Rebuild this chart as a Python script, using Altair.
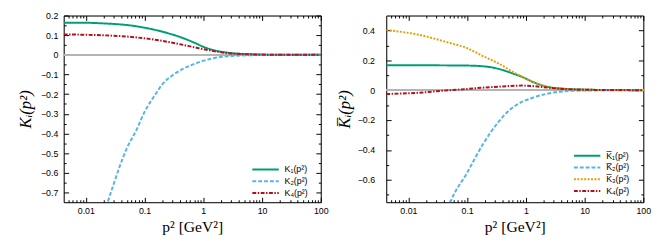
import altair as alt
import pandas as pd

# ---------------- data ----------------
# left panel
L_K1_p = [0.0042, 0.01, 0.02, 0.03, 0.056, 0.1, 0.2, 0.3, 0.4, 0.5, 0.75, 1.0, 1.5, 2.0, 3.0, 5.0, 10.0, 30.0, 100.0]
L_K1_v = [0.163, 0.163, 0.160, 0.157, 0.150, 0.138, 0.118, 0.103, 0.091, 0.080, 0.058, 0.041, 0.024, 0.016, 0.009, 0.004, 0.0015, 0.0003, 0.0]

L_K2_p = [0.018, 0.0235, 0.03, 0.038, 0.05, 0.072, 0.1, 0.15, 0.2, 0.3, 0.45, 0.8, 1.5, 3.0, 6.0, 10.0, 100.0]
L_K2_v = [-0.86, -0.75, -0.655, -0.565, -0.475, -0.385, -0.29, -0.205, -0.15, -0.104, -0.072, -0.040, -0.017, -0.006, -0.002, -0.001, 0.0]

L_K4_p = [0.0042, 0.01, 0.03, 0.06, 0.1, 0.2, 0.4, 0.8, 1.5, 3.0, 6.0, 10.0, 100.0]
L_K4_v = [0.104, 0.102, 0.097, 0.091, 0.084, 0.071, 0.054, 0.035, 0.019, 0.007, 0.003, 0.001, 0.0]

# right panel
R_K1_p = [0.0042, 0.01, 0.05, 0.1, 0.2, 0.35, 0.5, 0.67, 0.9, 1.27, 2.4, 4.6, 10.0, 17.0, 100.0]
R_K1_v = [0.167, 0.167, 0.166, 0.165, 0.159, 0.142, 0.123, 0.105, 0.086, 0.058, 0.022, 0.009, 0.004, 0.002, 0.0]

R_K2_p = [0.044, 0.052, 0.099, 0.187, 0.35, 0.52, 0.67, 1.27, 2.4, 4.6, 10.0, 100.0]
R_K2_v = [-0.83, -0.75, -0.556, -0.36, -0.207, -0.135, -0.102, -0.052, -0.022, -0.007, -0.002, 0.0]

R_K3_p = [0.0042, 0.0143, 0.051, 0.098, 0.185, 0.355, 0.67, 0.9, 1.27, 2.4, 4.6, 10.0, 17.0, 100.0]
R_K3_v = [0.403, 0.373, 0.316, 0.283, 0.229, 0.176, 0.112, 0.086, 0.058, 0.022, 0.009, 0.004, 0.002, 0.0]

R_K4_p = [0.0042, 0.0076, 0.014, 0.03, 0.051, 0.098, 0.185, 0.35, 0.67, 0.86, 1.27, 2.4, 4.6, 10.0, 17.0, 100.0]
R_K4_v = [-0.026, -0.022, -0.018, -0.007, 0.0, 0.008, 0.017, 0.024, 0.030, 0.031, 0.028, 0.017, 0.008, 0.003, 0.002, 0.0]

L_names = ["K\u2081(p\u00b2)", "K\u2082(p\u00b2)", "K\u2084(p\u00b2)"]
R_names = ["K\u0305\u2081(p\u00b2)", "K\u0305\u2082(p\u00b2)", "K\u0305\u2083(p\u00b2)", "K\u2084(p\u00b2)"]

GREEN, BLUE, ORANGE, RED = "#009e73", "#56b4e9", "#e69f00", "#b0121b"
L_colors = [GREEN, BLUE, RED]
R_colors = [GREEN, BLUE, ORANGE, RED]
SOLID, DASH, DOT, DASHDOT = [1, 0], [4, 2], [2, 1.5], [4, 1.5, 1.5, 1.5]
L_dash = [SOLID, DASH, DASHDOT]
R_dash = [SOLID, DASH, DOT, DASHDOT]

X_DOMAIN = [0.0042, 100]
L_Y_DOMAIN = [-0.75, 0.2]
R_Y_DOMAIN = [-0.75, 0.5]

x_major = [0.01, 0.1, 1, 10, 100]
x_ticks = [m * 10.0 ** e for e in range(-3, 2) for m in range(1, 10)] + [100.0]
x_ticks = [t for t in x_ticks if X_DOMAIN[0] <= t <= X_DOMAIN[1]]
L_y_ticks = [round(-0.7 + 0.05 * i, 2) for i in range(19)]
R_y_ticks = [round(-0.7 + 0.1 * i, 2) for i in range(12)]


def frame(series):
    rows = []
    for name, ps, vs in series:
        for p, v in zip(ps, vs):
            rows.append({"s": name, "p": p, "v": v})
    return pd.DataFrame(rows)


L_df = frame([(L_names[0], L_K1_p, L_K1_v), (L_names[1], L_K2_p, L_K2_v), (L_names[2], L_K4_p, L_K4_v)])
R_df = frame([(R_names[0], R_K1_p, R_K1_v), (R_names[1], R_K2_p, R_K2_v),
              (R_names[2], R_K3_p, R_K3_v), (R_names[3], R_K4_p, R_K4_v)])

X_MAJOR_TEST = "abs(log(datum.value)/LN10 - round(log(datum.value)/LN10)) < 1e-6"

W, H = 263, 191
TICK_FONT = "Liberation Sans"
TITLE_FONT = "Liberation Serif"
MAJ, MIN = -5, -2.5


def panel(df, names, colors, dashes, ydom, yticks, ymajor_test, ytitle, ylabpad, ytitlepad, legx, legy):
    xs = alt.Scale(type="log", domain=X_DOMAIN, nice=False)
    ys = alt.Scale(domain=ydom, nice=False, zero=False)
    common = dict(grid=False, domain=True, domainColor="black", domainWidth=1,
                  tickColor="black", tickWidth=1, tickOpacity=1,
                  labelFont=TICK_FONT, labelFontSize=9, labelColor="black", labelOverlap=False)
    xaxis = alt.Axis(orient="bottom", values=x_ticks, format="~g",
                     labelExpr=f"({X_MAJOR_TEST}) ? datum.label : ''",
                     tickSize={"condition": {"test": X_MAJOR_TEST, "value": MAJ}, "value": MIN},
                     labelPadding=10, labelFlush=False,
                     title="p\u00b2 [GeV\u00b2]", titleFont=TITLE_FONT, titleFontSize=16,
                     titleFontWeight="normal", titleColor="black", titlePadding=0, **common)
    yaxis = alt.Axis(orient="left", values=yticks, format="~g",
                     labelExpr=f"({ymajor_test}) ? datum.label : ''",
                     tickSize={"condition": {"test": ymajor_test, "value": MAJ}, "value": MIN},
                     labelPadding=ylabpad,
                     title=ytitle, titleFont=TITLE_FONT, titleFontSize=17, titleFontStyle="italic",
                     titleFontWeight="normal", titleColor="black", titlePadding=ytitlepad, **common)
    xaxis_t = alt.Axis(orient="top", values=x_ticks, labels=False, title=None,
                       tickSize={"condition": {"test": X_MAJOR_TEST, "value": MAJ}, "value": MIN}, **common)
    yaxis_r = alt.Axis(orient="right", values=yticks, labels=False, title=None,
                       tickSize={"condition": {"test": ymajor_test, "value": MAJ}, "value": MIN}, **common)

    zero = alt.Chart(df).mark_rule(color="#b4b4b4", strokeWidth=1.5).encode(
        y=alt.datum(0, scale=ys, axis=None))

    lines = alt.Chart(df).mark_line(strokeWidth=2, clip=True, interpolate="monotone").encode(
        x=alt.X("p:Q", scale=xs, axis=xaxis),
        y=alt.Y("v:Q", scale=ys, axis=yaxis),
        color=alt.Color("s:N", scale=alt.Scale(domain=names, range=colors), sort=names,
                        legend=alt.Legend(orient="none", legendX=legx, legendY=legy, title=None,
                                          symbolType="M-3,0H3", symbolSize=81, symbolStrokeWidth=2,
                                          symbolFillColor="transparent",
                                          labelFont=TICK_FONT, labelFontSize=9, labelColor="black",
                                          padding=0, rowPadding=1, labelOffset=14)),
        strokeDash=alt.StrokeDash("s:N", scale=alt.Scale(domain=names, range=dashes), sort=names, legend=None),
    )
    ghost = alt.Chart(df).mark_line(opacity=0).encode(
        x=alt.X("p:Q", scale=xs, axis=xaxis_t),
        y=alt.Y("v:Q", scale=ys, axis=yaxis_r),
        detail="s:N",
    )
    return alt.layer(zero, lines, ghost).resolve_axis(x="independent", y="independent").properties(width=W, height=H)


left = panel(L_df, L_names, L_colors, L_dash, L_Y_DOMAIN, L_y_ticks,
             "abs(datum.value*10 - round(datum.value*10)) < 1e-6",
             "K\u1d62(p\u00b2)", 11, 6, 201, 152)
right = panel(R_df, R_names, R_colors, R_dash, R_Y_DOMAIN, R_y_ticks,
              "abs(datum.value*5 - round(datum.value*5)) < 1e-6",
              "K\u0305\u1d62(p\u00b2)", 17, 4, 200, 138)

chart = alt.hconcat(left, right, spacing=5).resolve_scale(
    color="independent", strokeDash="independent"
).resolve_legend(color="independent", strokeDash="independent").properties(
    padding={"left": 8, "top": 0, "right": 5, "bottom": 5}
).configure_view(stroke="black", strokeWidth=1).configure(background="white")

chart.save("out.html", embed_options={"renderer": "svg", "actions": False})
